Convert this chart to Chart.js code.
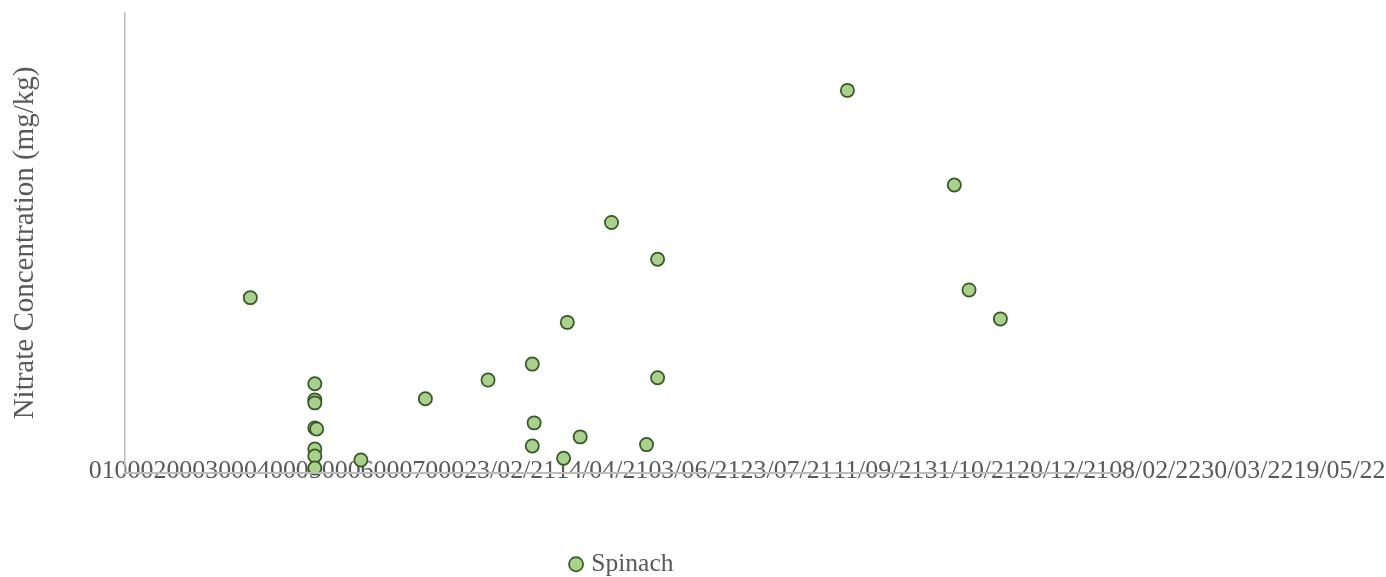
<!DOCTYPE html>
<html>
<head>
<meta charset="utf-8">
<script src="https://cdn.jsdelivr.net/npm/chart.js@4.4.1/dist/chart.umd.min.js"></script>
<style>
  html, body { margin: 0; padding: 0; background: #fff; }
  canvas { display: block; }
</style>
</head>
<body>
<canvas id="chart" width="1386" height="577"></canvas>
<script>
// Spinach samples: sampling date (dd/mm/yy) and nitrate concentration (mg/kg)
const sampleDates = [
  "05/10/20", "09/11/20", "09/11/20", "09/11/20", "09/11/20", "10/11/20", "09/11/20", "09/11/20", "09/11/20",
  "04/12/20", "08/01/21", "11/02/21", "07/03/21", "08/03/21", "07/03/21", "24/03/21", "26/03/21", "02/04/21",
  "19/04/21", "08/05/21", "14/05/21", "14/05/21", "25/08/21", "22/10/21", "30/10/21", "16/11/21"
]
const nitrate = [
  1525, 776, 636, 610, 392, 383, 209, 148, 44,
  113, 645, 808, 947, 436, 235, 128, 1310, 314,
  2179, 247, 1859, 828, 3327, 2504, 1592, 1340
]

// x axis labels as they are printed under the chart
const xTickLabels = [
  "0", "1000", "2000", "3000", "4000", "5000", "6000", "7000",
  "23/02/21", "14/04/21", "03/06/21", "23/07/21", "11/09/21", "31/10/21",
  "20/12/21", "08/02/22", "30/03/22", "19/05/22"
]
const xRange = ["29/07/20", "21/01/22"]
const yRange = [0, 4000]

const serif = "'Liberation Serif', 'Times New Roman', serif"
const tickFontSize = 25.9
const textGray = "#595959"
const axisGray = "#bcbcbc"

// dd/mm/yy -> spreadsheet day number
function serial(s) {
  const [d, m, y] = s.split("/").map(Number)
  return (Date.UTC(2000 + y, m - 1, d) - Date.UTC(1899, 11, 30)) / 864e5
}

const isDate = (l) => l.includes("/")
const firstDateValue = serial(xTickLabels.find(isDate))

// the plain number labels sit packed against the first date label
const packNumberLabels = {
  id: "packNumberLabels",
  afterLayout(chart) {
    const scale = chart.scales.x
    const ticks = scale.ticks
    const first = ticks.findIndex((t) => isDate(t.label))
    if (first < 1) return
    const ctx = chart.ctx
    ctx.save()
    ctx.font = `${tickFontSize}px ${serif}`
    let edge = scale.getPixelForValue(ticks[first].value) - ctx.measureText(ticks[first].label).width / 2
    for (let i = first - 1; i >= 0; i--) {
      const w = ctx.measureText(ticks[i].label).width
      ticks[i].value = scale.getValueForPixel(edge - w / 2)
      edge -= w
    }
    ctx.restore()
  },
}

new Chart(document.getElementById("chart"), {
  type: "scatter",
  data: {
    datasets: [
      {
        label: "Spinach",
        data: sampleDates.map((d, i) => ({ x: serial(d), y: nitrate[i] })),
        backgroundColor: "#a9d18e",
        borderColor: "#385723",
        borderWidth: 1.75,
        pointRadius: 6.6,
        pointHoverRadius: 6.6,
        clip: false,
      },
    ],
  },
  options: {
    responsive: false,
    animation: false,
    devicePixelRatio: 1,
    layout: {
      autoPadding: false,
      padding: { top: 13, right: 264, left: 0, bottom: -10 },
    },
    plugins: {
      tooltip: { enabled: false },
      legend: {
        position: "bottom",
        fullSize: false,
        labels: {
          usePointStyle: true,
          pointStyle: "circle",
          boxWidth: 5,
          boxHeight: 10,
          padding: 2,
          color: textGray,
          font: { family: serif, size: 25.5 },
        },
      },
    },
    scales: {
      x: {
        type: "linear",
        min: serial(xRange[0]),
        max: serial(xRange[1]),
        afterBuildTicks: (s) => {
          s.ticks = xTickLabels.map((l) => ({ value: isDate(l) ? serial(l) : firstDateValue }))
        },
        ticks: {
          autoSkip: false,
          maxRotation: 0,
          minRotation: 0,
          mirror: true,
          padding: -14,
          showLabelBackdrop: false,
          color: textGray,
          font: { family: serif, size: tickFontSize },
          callback: (v, i) => xTickLabels[i],
        },
        grid: { display: false, drawTicks: false },
        // axis line is drawn across the labels
        border: { display: true, color: axisGray, width: 2, z: 1 },
        afterFit: (s) => {
          s.paddingLeft = 0
          s.paddingRight = 0
          s.height = 76.5
        },
      },
      y: {
        min: yRange[0],
        max: yRange[1],
        ticks: { display: false },
        grid: { display: false, drawTicks: false },
        border: { display: true, color: axisGray, width: 1.5 },
        title: {
          display: true,
          text: "Nitrate Concentration (mg/kg)",
          color: textGray,
          font: { family: serif, size: 29 },
          padding: { top: 8, bottom: 0 },
        },
        afterFit: (s) => {
          s.width = 125
        },
      },
    },
  },
  plugins: [packNumberLabels],
})
</script>
</body>
</html>
